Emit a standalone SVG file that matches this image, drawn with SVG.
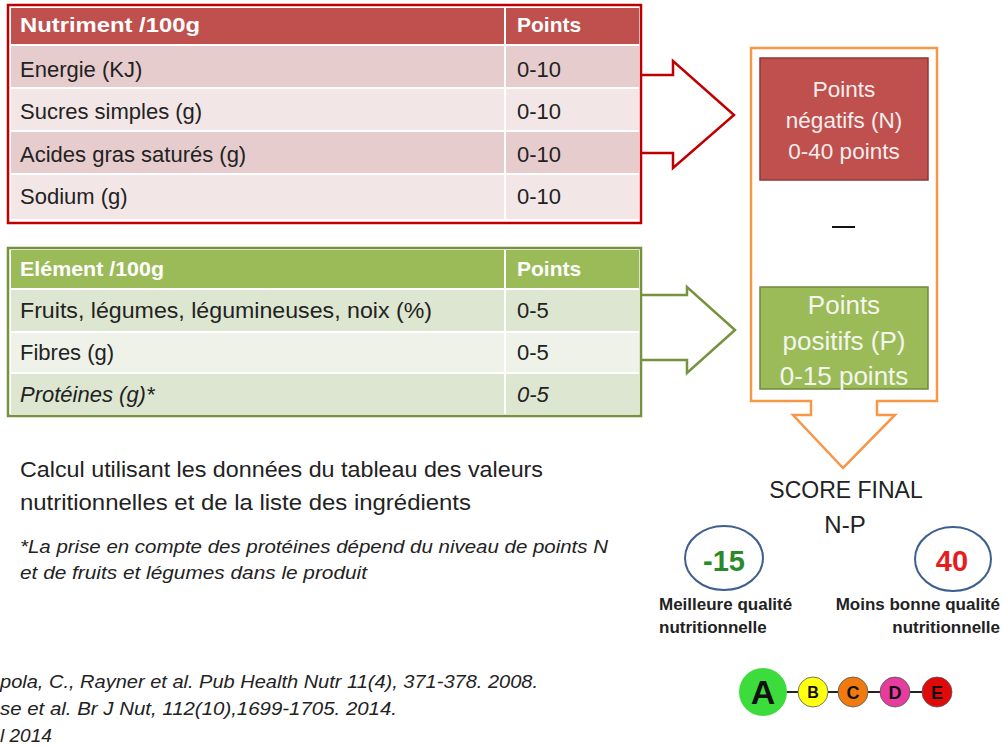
<svg xmlns="http://www.w3.org/2000/svg" width="1008" height="747" viewBox="0 0 1008 747">
<style>
text{font-family:"Liberation Sans",Arial,sans-serif;fill:#222}
.cell{font-size:22px}
.hdr{font-size:21px;font-weight:bold;fill:#fff}
.box{font-size:22.5px;fill:#f4eeee;text-anchor:middle}
.boxg{font-size:26px;fill:#f4f6ee;text-anchor:middle}
.lbl{font-size:17px;font-weight:bold}
.ref{font-size:19px;font-style:italic}
.ns{font-weight:bold;text-anchor:middle;fill:#111}
</style>
<rect width="1008" height="747" fill="#fff"/>
<g id="connectors" fill="#fff" stroke-width="2.5" stroke-linejoin="miter">
<path id="arrow-red" d="M640,75 H673 V61 L734,115 L673,168 V153 H640" stroke="#c00000"/>
<path id="arrow-green" d="M640,295 H687 V287 L735,330 L687,373 V360 H640" stroke="#76923c"/>
<path id="arrow-orange" d="M751,48 H937 V401 H877 V415 H895 L843,468 L793,415 H811 V401 H751 Z" stroke="#f79646"/>
</g>
<g id="table-neg">
<rect x="11" y="8" width="628" height="214" fill="#fff"/>
<rect x="11" y="8" width="493" height="36" fill="#c0504d"/>
<rect x="506" y="8" width="133" height="36" fill="#c0504d"/>
<rect x="11" y="46" width="493" height="41" fill="#e6cccd"/>
<rect x="506" y="46" width="133" height="41" fill="#e6cccd"/>
<rect x="11" y="89" width="493" height="41" fill="#f2e6e6"/>
<rect x="506" y="89" width="133" height="41" fill="#f2e6e6"/>
<rect x="11" y="132" width="493" height="41" fill="#e6cccd"/>
<rect x="506" y="132" width="133" height="41" fill="#e6cccd"/>
<rect x="11" y="175" width="493" height="44" fill="#f2e6e6"/>
<rect x="506" y="175" width="133" height="44" fill="#f2e6e6"/>
<rect x="8" y="5" width="633" height="218" fill="none" stroke="#c00000" stroke-width="2.5"/>
<text class="hdr" x="20" y="32" textLength="180" lengthAdjust="spacingAndGlyphs">Nutriment /100g</text>
<text class="hdr" x="517" y="32">Points</text>
<text class="cell" x="20" y="77">Energie (KJ)</text><text class="cell" x="517" y="77">0-10</text>
<text class="cell" x="20" y="119">Sucres simples (g)</text><text class="cell" x="517" y="119">0-10</text>
<text class="cell" x="20" y="162">Acides gras saturés (g)</text><text class="cell" x="517" y="162">0-10</text>
<text class="cell" x="20" y="204">Sodium (g)</text><text class="cell" x="517" y="204">0-10</text>
</g>
<g id="table-pos">
<rect x="11" y="250" width="628" height="164" fill="#fff"/>
<rect x="11" y="250" width="493" height="38" fill="#9bbb59"/>
<rect x="506" y="250" width="133" height="38" fill="#9bbb59"/>
<rect x="11" y="290" width="493" height="41" fill="#dde6d0"/>
<rect x="506" y="290" width="133" height="41" fill="#dde6d0"/>
<rect x="11" y="333" width="493" height="39" fill="#eef2e8"/>
<rect x="506" y="333" width="133" height="39" fill="#eef2e8"/>
<rect x="11" y="374" width="493" height="40" fill="#dde6d0"/>
<rect x="506" y="374" width="133" height="40" fill="#dde6d0"/>
<rect x="8" y="248" width="633" height="168" fill="none" stroke="#76923c" stroke-width="2.5"/>
<text class="hdr" x="20" y="276" textLength="144" lengthAdjust="spacingAndGlyphs">Elément /100g</text>
<text class="hdr" x="517" y="276">Points</text>
<text class="cell" x="20" y="318" textLength="412" lengthAdjust="spacingAndGlyphs">Fruits, légumes, légumineuses, noix (%)</text><text class="cell" x="517" y="318">0-5</text>
<text class="cell" x="20" y="360">Fibres (g)</text><text class="cell" x="517" y="360">0-5</text>
<text class="cell" x="20" y="402" font-style="italic">Protéines (g)*</text><text class="cell" x="517" y="402" font-style="italic">0-5</text>
</g>
<g id="box-neg">
<rect x="760" y="58" width="168" height="122" fill="#c0504d" stroke="#8c3836" stroke-width="1.5"/>
<text class="box" x="844" y="97">Points</text>
<text class="box" x="844" y="128">négatifs (N)</text>
<text class="box" x="844" y="159">0-40 points</text>
</g>
<g id="minus"><line x1="832" y1="227" x2="855" y2="227" stroke="#111" stroke-width="2"/></g>
<g id="box-pos">
<rect x="760" y="287" width="168" height="102" fill="#9bbb59" stroke="#71893f" stroke-width="1.5"/>
<text class="boxg" x="844" y="314">Points</text>
<text class="boxg" x="844" y="350">positifs (P)</text>
<text class="boxg" x="844" y="385">0-15 points</text>
</g>
<g id="score">
<text x="846" y="498" font-size="23" text-anchor="middle">SCORE FINAL</text>
<text x="845" y="533" font-size="24" text-anchor="middle">N-P</text>
</g>
<g id="best">
<ellipse cx="724" cy="558" rx="39" ry="32" fill="none" stroke="#3f5f8f" stroke-width="2"/>
<text x="724" y="571" font-size="29" font-weight="bold" text-anchor="middle" style="fill:#2a8a2a">-15</text>
<text class="lbl" x="659" y="610">Meilleure qualité</text>
<text class="lbl" x="659" y="633">nutritionnelle</text>
</g>
<g id="worst">
<ellipse cx="953" cy="559" rx="38" ry="32" fill="none" stroke="#3f5f8f" stroke-width="2"/>
<text x="952" y="571" font-size="29" font-weight="bold" text-anchor="middle" style="fill:#e41e1e">40</text>
<text class="lbl" x="1000" y="610" text-anchor="end">Moins bonne qualité</text>
<text class="lbl" x="1000" y="633" text-anchor="end">nutritionnelle</text>
</g>
<g id="nutriscore">
<line x1="770" y1="692" x2="940" y2="692" stroke="#222" stroke-width="2"/>
<circle cx="763" cy="692" r="24" fill="#3ddc3d"/>
<circle cx="813" cy="692" r="15" fill="#ffff10" stroke="#555" stroke-width="0.8"/>
<circle cx="853" cy="692" r="15" fill="#f07a10" stroke="#555" stroke-width="0.8"/>
<circle cx="895" cy="692" r="15" fill="#e63c9e" stroke="#555" stroke-width="0.8"/>
<circle cx="937" cy="692" r="15" fill="#e00a0a" stroke="#555" stroke-width="0.8"/>
<text class="ns" x="763" y="704" font-size="34">A</text>
<text class="ns" x="813" y="698" font-size="16">B</text>
<text class="ns" x="853" y="699" font-size="18">C</text>
<text class="ns" x="895" y="699" font-size="18">D</text>
<text class="ns" x="937" y="699" font-size="18">E</text>
</g>
<g id="notes">
<text x="20" y="477" font-size="22" textLength="523" lengthAdjust="spacingAndGlyphs">Calcul utilisant les données du tableau des valeurs</text>
<text x="20" y="510" font-size="22" textLength="451" lengthAdjust="spacingAndGlyphs">nutritionnelles et de la liste des ingrédients</text>
<text x="20" y="553" font-size="18" font-style="italic" textLength="588" lengthAdjust="spacingAndGlyphs">*La prise en compte des protéines dépend du niveau de points N</text>
<text x="20" y="579" font-size="18" font-style="italic" textLength="347" lengthAdjust="spacingAndGlyphs">et de fruits et légumes dans le produit</text>
<text class="ref" x="0" y="688" textLength="538" lengthAdjust="spacingAndGlyphs">pola, C., Rayner et al. Pub Health Nutr 11(4), 371-378. 2008.</text>
<text class="ref" x="0" y="715" textLength="397" lengthAdjust="spacingAndGlyphs">se et al. Br J Nut, 112(10),1699-1705. 2014.</text>
<text class="ref" x="0" y="742">l 2014</text>
</g>
</svg>
